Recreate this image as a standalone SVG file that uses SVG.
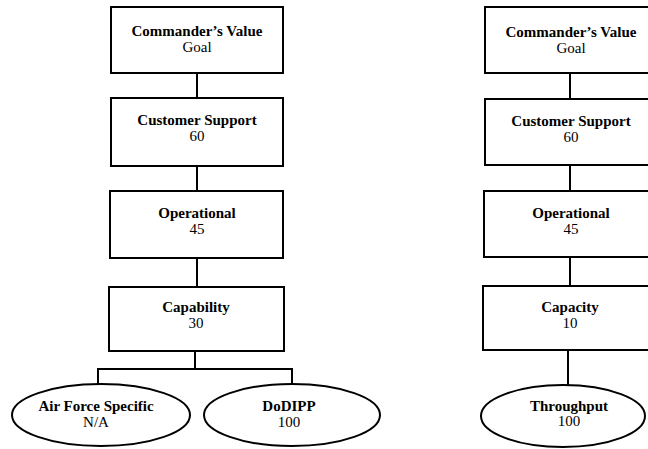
<svg xmlns="http://www.w3.org/2000/svg" width="648" height="449" viewBox="0 0 648 449">
  <style>
    .box { fill: #fff; stroke: #000; stroke-width: 2; }
    .link { fill: none; stroke: #000; stroke-width: 2; }
    .t { font-family: "Liberation Serif", "Times New Roman", serif; font-size: 15px; fill: #000; text-anchor: middle; }
    .h { font-weight: bold; }
  </style>
  <rect width="648" height="449" fill="#fff"/>

  <!-- connectors -->
  <g id="connectors">
    <path class="link" d="M197 73V98M197 166V191M197 258V287M195 351V369M98 369H292M98 368V384M292 368V384"/>
    <path class="link" d="M570 73V99M570 165V191M570 257V286M568 350V385"/>
  </g>

  <!-- left hierarchy -->
  <g id="l-commander">
    <rect class="box" x="111" y="7" width="172" height="66"/>
    <text class="t h" x="197" y="36">Commander’s Value</text>
    <text class="t" x="197" y="52">Goal</text>
  </g>
  <g id="l-customer">
    <rect class="box" x="111" y="98" width="172" height="68"/>
    <text class="t h" x="197" y="125">Customer Support</text>
    <text class="t" x="197" y="141">60</text>
  </g>
  <g id="l-operational">
    <rect class="box" x="110" y="191" width="173" height="67"/>
    <text class="t h" x="197" y="218">Operational</text>
    <text class="t" x="197" y="234">45</text>
  </g>
  <g id="l-capability">
    <rect class="box" x="109" y="287" width="175" height="64"/>
    <text class="t h" x="196" y="312">Capability</text>
    <text class="t" x="196" y="328">30</text>
  </g>
  <g id="l-airforce">
    <ellipse class="box" cx="101" cy="415" rx="89" ry="31"/>
    <text class="t h" x="96" y="411">Air Force Specific</text>
    <text class="t" x="96" y="427">N/A</text>
  </g>
  <g id="l-dodipp">
    <ellipse class="box" cx="292" cy="415" rx="88" ry="31"/>
    <text class="t h" x="289" y="411">DoDIPP</text>
    <text class="t" x="289" y="427">100</text>
  </g>

  <!-- right hierarchy -->
  <g id="r-commander">
    <rect class="box" x="485" y="7" width="180" height="66"/>
    <text class="t h" x="571" y="37">Commander’s Value</text>
    <text class="t" x="571" y="53">Goal</text>
  </g>
  <g id="r-customer">
    <rect class="box" x="485" y="99" width="180" height="66"/>
    <text class="t h" x="571" y="126">Customer Support</text>
    <text class="t" x="571" y="142">60</text>
  </g>
  <g id="r-operational">
    <rect class="box" x="484" y="191" width="181" height="66"/>
    <text class="t h" x="571" y="218">Operational</text>
    <text class="t" x="571" y="234">45</text>
  </g>
  <g id="r-capacity">
    <rect class="box" x="483" y="286" width="182" height="64"/>
    <text class="t h" x="570" y="312">Capacity</text>
    <text class="t" x="570" y="328">10</text>
  </g>
  <g id="r-throughput">
    <ellipse class="box" cx="563" cy="416" rx="82" ry="31"/>
    <text class="t h" x="569" y="411">Throughput</text>
    <text class="t" x="569" y="426">100</text>
  </g>
</svg>
